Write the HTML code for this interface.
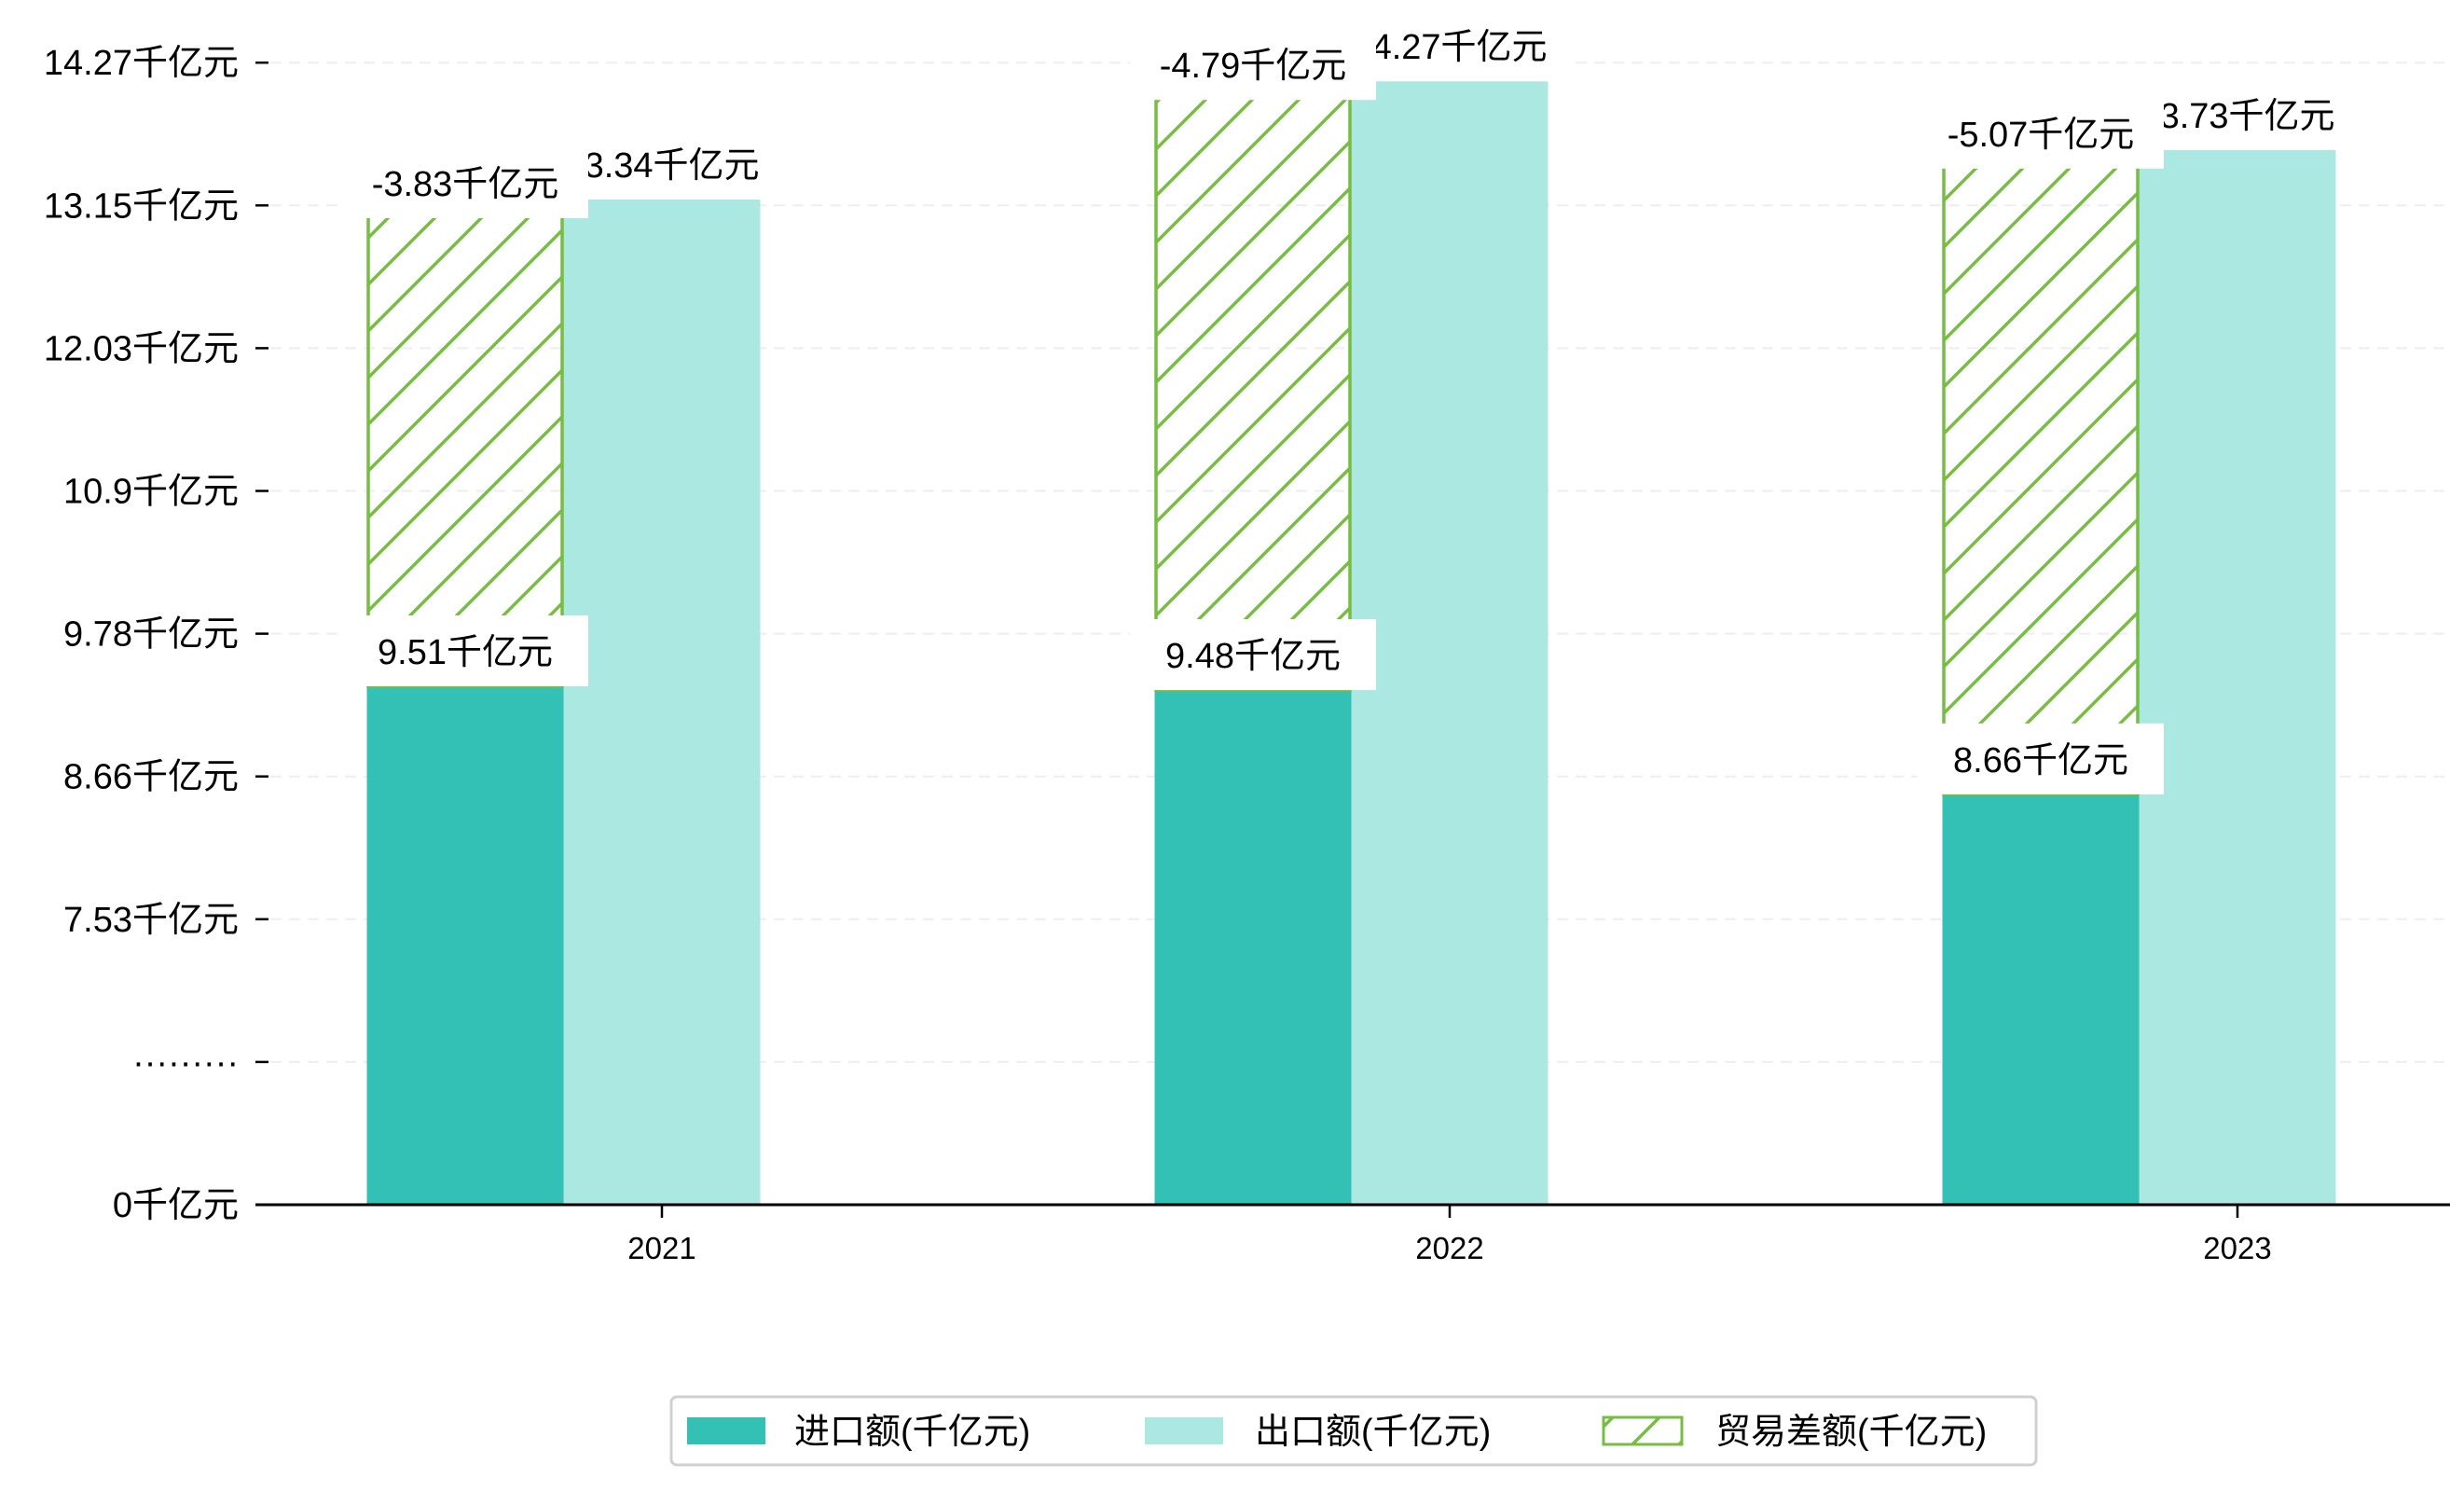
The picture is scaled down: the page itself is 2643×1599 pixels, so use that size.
<!DOCTYPE html>
<html><head><meta charset="utf-8">
<style>
html,body{margin:0;padding:0;background:#fff;}
svg{display:block;}
text{font-family:"Liberation Sans","Noto Sans CJK SC",sans-serif;fill:#000;}
</style></head>
<body>
<svg id="chart" width="2643" height="1599" viewBox="0 0 2643 1599" xmlns="http://www.w3.org/2000/svg">
<defs>
<pattern id="hatch" patternUnits="userSpaceOnUse" width="50" height="50">
<path d="M0,50 L50,0 M-12.5,12.5 L12.5,-12.5 M37.5,62.5 L62.5,37.5" stroke="#77bd43" stroke-width="3.5"/>
</pattern>
</defs>
<g id="grid"></g>
<g id="bars"></g>
<g id="labels"></g>
<g id="axes"></g>
<g id="legend"></g>
</svg>
<script>
const categories = ['2021', '2022', '2023'];
const importVals = [9.51, 9.48, 8.66];
const exportVals = [13.34, 14.27, 13.73];
const balanceVals = [-3.83, -4.79, -5.07];
const tickLabels = ['0千亿元', '·········', '7.53千亿元', '8.66千亿元', '9.78千亿元', '10.9千亿元', '12.03千亿元', '13.15千亿元', '14.27千亿元'];

const NS = 'http://www.w3.org/2000/svg';
const AXIS_Y = 1292, K = 136.3, Y0 = 2032.2;
const TICK_STEP = 153.1;
const X0 = 710, XSTEP = 845, BW = 211;
const xPos = i => X0 + i * XSTEP;
const yVal = v => Math.min(AXIS_Y, Y0 - K * v);
const yTick = i => AXIS_Y - TICK_STEP * i;

function mk(tag, attrs, parent) {
  const e = document.createElementNS(NS, tag);
  for (const k in attrs) e.setAttribute(k, attrs[k]);
  parent.appendChild(e);
  return e;
}
const grid = document.getElementById('grid');
const bars = document.getElementById('bars');
const labels = document.getElementById('labels');
const axes = document.getElementById('axes');
const legend = document.getElementById('legend');

tickLabels.forEach((t, i) => {
  const y = yTick(i);
  if (i > 0) {
    const g = mk('line', {x1: 290, x2: 2630, y1: y, y2: y, stroke: '#eeeeee', 'stroke-width': 2, 'stroke-dasharray': '12,8'}, grid);
    
    
  }
  const tm = mk('line', {x1: 274, x2: 288, y1: y, y2: y, stroke: '#000', 'stroke-width': 2.5}, axes);
  
  
  const tx = mk('text', {x: 256, y: y + 13, 'text-anchor': 'end', 'font-size': 38}, axes);
  tx.textContent = t;
  
  
});

function addLabel(cx, boxBottom, txt) {
  const w = 264, h = 76;
  const r = mk('rect', {x: cx - w / 2, y: boxBottom - h, width: w, height: h, fill: '#fff'}, labels);
  
  
  const t = mk('text', {x: cx, y: boxBottom - h / 2 + 14, 'text-anchor': 'middle', 'font-size': 38}, labels);
  t.textContent = txt;
  
  
}

categories.forEach((c, i) => {
  const xc = xPos(i);
  const ix = xc - 1.5 * BW, ex = xc - 0.5 * BW;
  const iy = yVal(importVals[i]);
  const b1 = mk('rect', {x: ix, y: iy, width: BW, height: AXIS_Y - iy, fill: '#32c1b4'}, bars);
  
  
  const ey = yVal(exportVals[i]);
  const b2 = mk('rect', {x: ex, y: ey, width: BW, height: AXIS_Y - ey, fill: '#abe8e2'}, bars);
  
  
  const top = importVals[i] + Math.abs(balanceVals[i]);
  const hy = yVal(top);
  const b3 = mk('rect', {x: ix + 1.5, y: hy, width: BW - 3, height: iy - hy, fill: 'url(#hatch)', stroke: '#77bd43', 'stroke-width': 3.5}, bars);
  
  

  addLabel(ix + BW / 2, iy, importVals[i] + '千亿元');
  addLabel(ex + BW / 2, ey, exportVals[i] + '千亿元');
  addLabel(ix + BW / 2, hy + 20, balanceVals[i] + '千亿元');

  const xt = mk('line', {x1: xc, x2: xc, y1: AXIS_Y, y2: AXIS_Y + 14, stroke: '#000', 'stroke-width': 2.5}, axes);
  
  
  const xl = mk('text', {x: xc, y: AXIS_Y + 58, 'text-anchor': 'middle', 'font-size': 33}, axes);
  xl.textContent = c;
  
  
});

const ax = mk('line', {x1: 274, x2: 2628, y1: AXIS_Y, y2: AXIS_Y, stroke: '#000', 'stroke-width': 3}, axes);



const lb = mk('rect', {x: 720, y: 1498, width: 1464, height: 73, rx: 6, fill: '#fff', stroke: '#d0d0d0', 'stroke-width': 3}, legend);


const entries = [
  {x: 737, tx: 852, fill: '#32c1b4', label: '进口额(千亿元)', name: 'legend-entry-import'},
  {x: 1228, tx: 1346, fill: '#abe8e2', label: '出口额(千亿元)', name: 'legend-entry-export'},
  {x: 1720, tx: 1840, fill: 'url(#hatch)', label: '贸易差额(千亿元)', name: 'legend-entry-balance'}
];
entries.forEach((en, k) => {
  const g = mk('g', {}, legend);
  
  
  const attrs = {x: en.x, y: 1520, width: 84, height: 29, fill: en.fill};
  if (k === 2) { attrs.stroke = '#77bd43'; attrs['stroke-width'] = 3; }
  const p = mk('rect', attrs, g);
  
  
  const t = mk('text', {x: en.tx, y: 1548, 'font-size': 38}, g);
  t.textContent = en.label;
  
  
});
</script>
</body></html>
